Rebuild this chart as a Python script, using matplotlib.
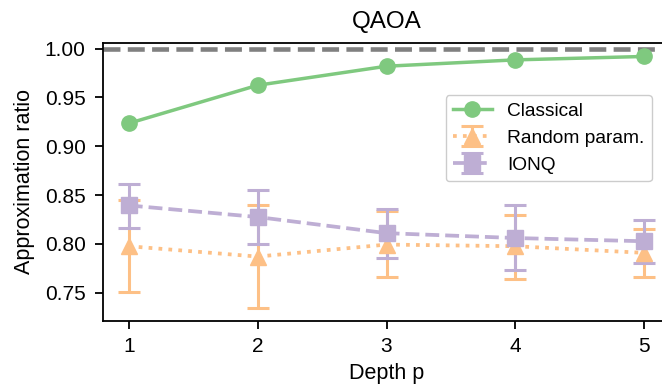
import matplotlib
matplotlib.use("Agg")
import matplotlib.pyplot as plt
import numpy as np

plt.rcParams['font.family'] = ['Liberation Sans', 'DejaVu Sans']

depth = [1, 2, 3, 4, 5]
classical = [0.9235, 0.9625, 0.982, 0.9885, 0.992]

random_mean = [0.7976, 0.787, 0.7993, 0.7976, 0.7908]
random_low = [0.7506, 0.7347, 0.7659, 0.7643, 0.7659]
random_high = [0.8445, 0.8394, 0.8333, 0.8296, 0.8156]

ionq_mean = [0.8394, 0.8275, 0.811, 0.806, 0.8027]
ionq_low = [0.8163, 0.800, 0.786, 0.7728, 0.7806]
ionq_high = [0.8615, 0.855, 0.836, 0.840, 0.8248]

green = '#7fc97f'
orange = '#fdc086'
purple = '#beaed4'

fig = plt.figure(figsize=(6.62, 3.89), dpi=100)
ax = fig.add_axes([0.1556, 0.1748, 0.8565, 0.7147])

ax.axhline(1.0, color='gray', ls='--', lw=3.3, zorder=1)

ax.plot(depth, classical, '-o', color=green, lw=2.5, ms=11, label='Classical')

r_err = [np.array(random_mean) - np.array(random_low),
         np.array(random_high) - np.array(random_mean)]
ax.errorbar(depth, random_mean, yerr=r_err, fmt='^', ls=':', color=orange,
            lw=2.7, ms=12, capsize=8, capthick=2.2, elinewidth=2.2,
            label='Random param.')

q_err = [np.array(ionq_mean) - np.array(ionq_low),
         np.array(ionq_high) - np.array(ionq_mean)]
ax.errorbar(depth, ionq_mean, yerr=q_err, fmt='s', ls='--', color=purple,
            lw=2.7, ms=12, capsize=8, capthick=2.2, elinewidth=2.2,
            label='IONQ')

ax.set_xlim(0.8, 5.2)
ax.set_ylim(0.721, 1.0058)
ax.set_xticks(depth)
ax.set_yticks([0.75, 0.80, 0.85, 0.90, 0.95, 1.00])
ax.tick_params(labelsize=15, length=5.5, width=1.3)
ax.tick_params(axis='y', pad=7)
ax.tick_params(axis='x', pad=6)
for s in ax.spines.values():
    s.set_linewidth(1.3)

ax.set_xlabel('Depth p', fontsize=15.5, labelpad=5)
ax.set_ylabel('Approximation ratio', fontsize=15.5, labelpad=7)
ax.set_title('QAOA', fontsize=17.5, pad=10.5)

ax.legend(loc='upper right', bbox_to_anchor=(0.968, 0.814), borderaxespad=0,
          fontsize=13.8, framealpha=1)

fig.savefig('out.png', dpi=100)
